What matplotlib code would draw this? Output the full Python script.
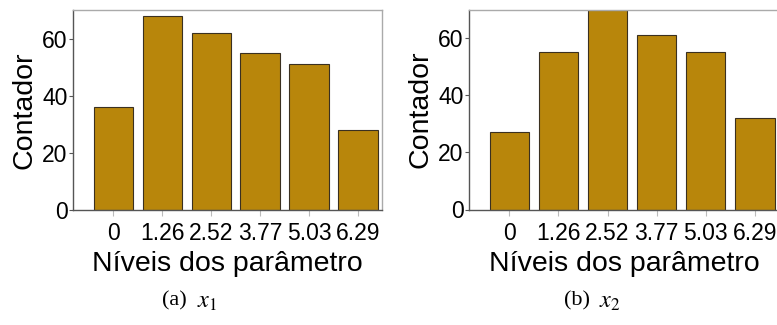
import matplotlib
matplotlib.use("Agg")
import matplotlib.pyplot as plt

levels = ["0", "1.26", "2.52", "3.77", "5.03", "6.29"]
counts_x1 = [36, 68, 62, 55, 51, 28]
counts_x2 = [27, 55, 70, 61, 55, 32]
captions = ["(a)", "(b)"]
caption_math = [r"$x_1$", r"$x_2$"]
yticks = [0, 20, 40, 60]

plt.rcParams['font.family'] = ['Liberation Sans', 'DejaVu Sans']
plt.rcParams['mathtext.fontset'] = 'stix'

W, H = 777, 325
fig = plt.figure(figsize=(W / 100, H / 100), dpi=100)

def px_axes(l, t, r, b):
    return fig.add_axes([l / W, 1 - b / H, (r - l) / W, (b - t) / H])

panels = [
    ((73, 10, 382, 210), counts_x1, 187, 197),
    ((469, 9.5, 779, 209.5), counts_x2, 590, 599),
]

for i, ((l, t, r, b), counts, cap_r, math_l) in enumerate(panels):
    ax = px_axes(l, t, r, b)
    xs = list(range(len(levels)))
    ax.bar(xs, counts, width=0.8, color="#B8860B", edgecolor="#3a3020", linewidth=0.8)
    ax.set_xlim(-0.82, 5.49)
    ax.set_ylim(0, 70)
    ax.set_xticks(xs)
    ax.set_xticklabels(levels, fontsize=16.5)
    ax.set_yticks(yticks)
    ax.set_yticklabels([str(v) for v in yticks], fontsize=16.5)
    ax.tick_params(axis='x', length=4, color="#bbbbbb", width=0.8, pad=5)
    ax.tick_params(axis='y', length=3, color="#555555", width=0.8, pad=1)
    for s in ["left", "bottom"]:
        ax.spines[s].set_color("#555555")
        ax.spines[s].set_linewidth(1.0)
    for s in ["top", "right"]:
        ax.spines[s].set_color("#aaaaaa")
        ax.spines[s].set_linewidth(1.0)
    ax.set_xlabel("Níveis dos parâmetro", fontsize=20.5, labelpad=4)
    ax.set_ylabel("Contador", fontsize=20.5, labelpad=3)
    fig.text(cap_r / W, 1 - 301 / H, captions[i], family="Liberation Serif",
             fontsize=16, ha="right", va="center")
    fig.text(math_l / W, 1 - 302 / H, caption_math[i], fontsize=17.5,
             ha="left", va="center")

fig.savefig("out.png", dpi=100)
